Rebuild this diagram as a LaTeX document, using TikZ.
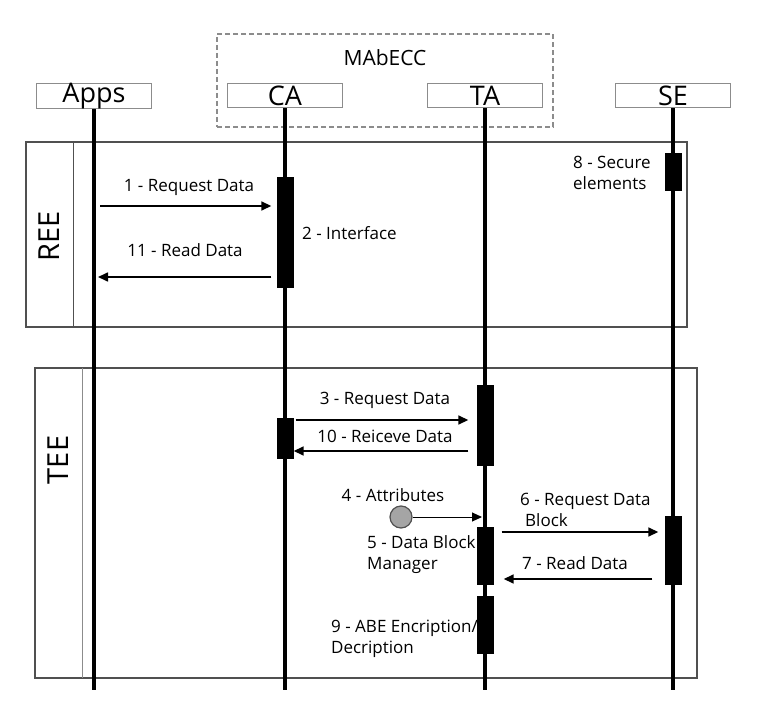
\documentclass[tikz,border=0pt]{standalone}
\usepackage{fontspec}
\setmainfont{Open Sans}
\usetikzlibrary{arrows.meta, positioning}
\definecolor{gris}{RGB}{80,80,80}
\definecolor{grisclair}{RGB}{140,140,140}
\definecolor{rond}{RGB}{165,165,165}

\begin{document}
\begin{tikzpicture}[x=1pt, y=-1pt,
		tete/.style={draw=grisclair, line width=1pt, minimum width=115pt, minimum height=24pt, inner sep=0pt, font=\fontsize{27}{29}\selectfont},
		barre/.style={fill=black, minimum width=17pt, inner sep=0pt},
		vie/.style={line width=3.5pt},
		msg/.style={line width=1.6pt, -{Triangle[length=10pt,width=9pt]}},
		lbl/.style={font=\fontsize{17}{21}\selectfont, inner sep=0pt, align=left},
		zone/.style={font=\fontsize{29}{31}\selectfont, rotate=90, inner sep=0pt}]
	\useasboundingbox (0,0) rectangle (762,708);
	% MAbECC
	\node[draw=grisclair, dashed, dash pattern=on 5pt off 3pt, line width=1.2pt, minimum width=336pt, minimum height=93pt] (mabecc) at (385,80.5) {};
	\node[font=\fontsize{21}{23}\selectfont] (titre) at (385,58) {MAbECC};
	% acteurs
	\node[tete] (apps) at (94,96) {Apps};
	\node[tete] (ca) at (285,96) {CA};
	\node[tete] (ta) at (485,96) {TA};
	\node[tete] (se) at (673,96) {SE};
	% zones REE / TEE
	\draw[gris, line width=1.1pt] (26,142) rectangle (687,327);
	\draw[gris, line width=1pt] (73,142) -- (73,327);
	\node[zone] (ree) at (49,236) {REE};
	\draw[gris, line width=1.1pt] (35,368) rectangle (697,678);
	\draw[grisclair, line width=1pt] (82,368) -- (82,678);
	\node[zone] (tee) at (58,460) {TEE};
	% lignes de vie
	\coordinate (bas) at (0,690);
	\foreach \a in {apps, ca, ta, se}
	\draw[vie] (\a.south) -- (\a.south |- bas);
	% activations
	\node[barre, minimum height=111pt] (b2) at (ca.south |- 0,232.5) {};
	\node[barre, minimum height=38pt] (b8) at (se.south |- 0,172) {};
	\node[barre, minimum height=41pt] (b10) at (ca.south |- 0,438.5) {};
	\node[barre, minimum height=81pt] (b3) at (ta.south |- 0,425.5) {};
	\node[barre, minimum height=58pt] (b5) at (ta.south |- 0,556) {};
	\node[barre, minimum height=58pt] (b9) at (ta.south |- 0,625) {};
	\node[barre, minimum height=69pt] (b6) at (se.south |- 0,550.5) {};
	% messages
	\coordinate (m1) at (0,206);
	\coordinate (m11) at (0,277);
	\coordinate (m3) at (0,420);
	\coordinate (m10) at (0,451);
	\coordinate (m6) at (0,532);
	\coordinate (m7) at (0,579);
	\draw[msg, shorten <=6pt, shorten >=5pt] (apps.south |- m1) -- (b2.west |- m1);
	\draw[msg, shorten <=5pt, shorten >=4pt] (b2.west |- m11) -- (apps.south |- m11);
	\draw[msg, shorten <=2pt, shorten >=8pt] (b10.east |- m3) -- (b3.west |- m3);
	\draw[msg, shorten <=8pt] (b3.west |- m10) -- (b10.east |- m10);
	\draw[msg, shorten <=8pt, shorten >=6pt] (b5.east |- m6) -- (b6.west |- m6);
	\draw[msg, shorten <=12pt, shorten >=10pt] (b6.west |- m7) -- (b5.east |- m7);
	% attributs
	\node[draw=gris, fill=rond, circle, line width=1.2pt, minimum size=22pt, inner sep=0pt] (attr) at (401,517) {};
	\draw[line width=1pt, -{Triangle[length=10pt,width=9pt]}, shorten >=3pt] (attr.east) -- (ta.south |- attr);
	% textes
	\node[lbl] (t1) at (189,187) {1 - Request Data};
	\node[lbl] (t11) at (185,250) {11 - Read Data};
	\node[lbl, anchor=west] (t2) at (302,233) {2 - Interface};
	\node[lbl, anchor=west] (t8) at (573,173) {8 - Secure\\elements};
	\node[lbl] (t3) at (385,400) {3 - Request Data};
	\node[lbl] (t10) at (385,436) {10 - Reiceve Data};
	\node[lbl] (t4) at (393,495) {4 - Attributes};
	\node[lbl, anchor=west] (t6) at (520,510) {6 - Request Data\\\hspace*{5pt}Block};
	\node[lbl, anchor=west] (t5) at (367,555) {5 - Data Block\\Manager};
	\node[lbl, anchor=west] (t7) at (522,563) {7 - Read Data};
	\node[lbl, anchor=west] (t9) at (331,639) {9 - ABE Encription/\\Decription};
\end{tikzpicture}
\end{document}
